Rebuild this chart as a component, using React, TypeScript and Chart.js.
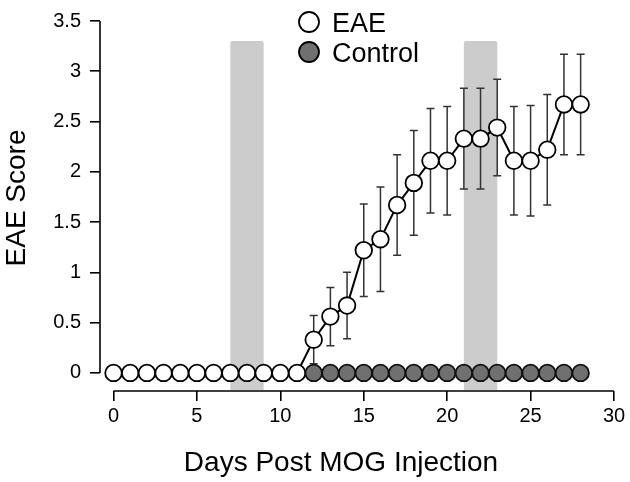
import React, { useEffect, useRef } from "react";
import { Chart, registerables } from "chart.js";

Chart.register(...registerables);

// ---- data ----
const days = [0, 1, 2, 3, 4, 5, 6, 7, 8, 9, 10, 11, 12, 13, 14, 15, 16, 17, 18, 19, 20, 21, 22, 23, 24, 25, 26, 27, 28];
const eaeScores = [0, 0, 0, 0, 0, 0, 0, 0, 0, 0, 0, 0, 0.33, 0.56, 0.67, 1.22, 1.33, 1.67, 1.89, 2.11, 2.11, 2.33, 2.33, 2.44, 2.11, 2.11, 2.22, 2.67, 2.67];
const eaeErrors = [0, 0, 0, 0, 0, 0, 0, 0, 0, 0, 0, 0, 0.24, 0.29, 0.33, 0.46, 0.52, 0.5, 0.52, 0.52, 0.54, 0.5, 0.5, 0.48, 0.54, 0.55, 0.55, 0.5, 0.5];
const controlDays = [12, 13, 14, 15, 16, 17, 18, 19, 20, 21, 22, 23, 24, 25, 26, 27, 28];
const controlScores = [0, 0, 0, 0, 0, 0, 0, 0, 0, 0, 0, 0, 0, 0, 0, 0, 0];
const shadedStarts = [7, 21];
const shadedEnds = [9, 23];
const shadedTop = 3.3;
const shadedBottom = -0.17;
const xTicks = [0, 5, 10, 15, 20, 25, 30];
const yTicks = [0, 0.5, 1, 1.5, 2, 2.5, 3, 3.5];
const seriesLabels = ["EAE", "Control"];
const xTitle = "Days Post MOG Injection";
const yTitle = "EAE Score";

const FONT = "'Liberation Sans', Arial, Helvetica, sans-serif";

const decorPlugin = {
  id: "decor",
  beforeDatasetsDraw(chart: any) {
    const { ctx, chartArea, scales } = chart;
    const xs = scales.x;
    const ys = scales.y;
    ctx.save();
    // shaded periods
    ctx.fillStyle = "#cccccc";
    for (let i = 0; i < shadedStarts.length; i++) {
      const x0 = xs.getPixelForValue(shadedStarts[i]);
      const x1 = xs.getPixelForValue(shadedEnds[i]);
      const y0 = ys.getPixelForValue(shadedTop);
      const y1 = ys.getPixelForValue(shadedBottom);
      ctx.beginPath();
      if ((ctx as any).roundRect) {
        (ctx as any).roundRect(x0, y0, x1 - x0, y1 - y0, [2, 2, 0, 0]);
      } else {
        ctx.rect(x0, y0, x1 - x0, y1 - y0);
      }
      ctx.fill();
    }
    // axis lines
    ctx.strokeStyle = "#000";
    ctx.lineWidth = 1.6;
    ctx.beginPath();
    ctx.moveTo(chartArea.left, ys.getPixelForValue(yTicks[0]));
    ctx.lineTo(chartArea.left, ys.getPixelForValue(yTicks[yTicks.length - 1]));
    ctx.stroke();
    ctx.beginPath();
    ctx.moveTo(xs.getPixelForValue(xTicks[0]), chartArea.bottom);
    ctx.lineTo(xs.getPixelForValue(xTicks[xTicks.length - 1]), chartArea.bottom);
    ctx.stroke();
    // error bars
    ctx.strokeStyle = "#333";
    ctx.lineWidth = 1.5;
    const cap = 4;
    for (let i = 0; i < days.length; i++) {
      const e = eaeErrors[i];
      if (!e) continue;
      const x = xs.getPixelForValue(days[i]);
      const yt = ys.getPixelForValue(eaeScores[i] + e);
      const yb = ys.getPixelForValue(eaeScores[i] - e);
      ctx.beginPath();
      ctx.moveTo(x, yt);
      ctx.lineTo(x, yb);
      ctx.moveTo(x - cap, yt);
      ctx.lineTo(x + cap, yt);
      ctx.moveTo(x - cap, yb);
      ctx.lineTo(x + cap, yb);
      ctx.stroke();
    }
    ctx.restore();
  },
  afterDraw(chart: any) {
    const { ctx, chartArea } = chart;
    ctx.save();
    ctx.fillStyle = "#000";
    // axis titles
    ctx.font = `28px ${FONT}`;
    ctx.textAlign = "center";
    ctx.textBaseline = "alphabetic";
    ctx.fillText(xTitle, chartArea.left + 241, chartArea.bottom + 80);
    ctx.save();
    ctx.translate(chartArea.left - 75, chartArea.top + 177);
    ctx.rotate(-Math.PI / 2);
    ctx.fillText(yTitle, 0, 0);
    ctx.restore();
    // legend (in series label order)
    const lx = chartArea.left + 209;
    const ly = chartArea.top + 1;
    seriesLabels.forEach((label, i) => {
      const ds: any = chart.data.datasets.find((d: any) => d.label === label);
      if (!ds) return;
      const cy = ly + i * 30;
      ctx.beginPath();
      ctx.arc(lx, cy, 10, 0, Math.PI * 2);
      ctx.fillStyle = ds.pointBackgroundColor;
      ctx.fill();
      ctx.lineWidth = 1.8;
      ctx.strokeStyle = "#000";
      ctx.stroke();
      ctx.fillStyle = "#000";
      ctx.font = `27px ${FONT}`;
      ctx.textAlign = "left";
      ctx.textBaseline = "alphabetic";
      ctx.fillText(label, lx + 23, cy + 10);
    });
    ctx.restore();
  },
};

export default function App() {
  const ref = useRef<HTMLCanvasElement | null>(null);
  useEffect(() => {
    document.body.style.margin = "0";
    const canvas = ref.current;
    if (!canvas) return;
    const chart = new Chart(canvas, {
      type: "line",
      data: {
        datasets: [
          {
            label: seriesLabels[1],
            data: controlDays.map((d, i) => ({ x: d, y: controlScores[i] })),
            showLine: false,
            pointRadius: 8.3,
            pointHoverRadius: 8.3,
            pointBackgroundColor: "#707070",
            pointBorderColor: "#111",
            pointBorderWidth: 1.8,
            clip: false,
            order: 1,
          } as any,
          {
            label: seriesLabels[0],
            data: days.map((d, i) => ({ x: d, y: eaeScores[i] })),
            borderColor: "#000",
            borderWidth: 2,
            pointRadius: 8.3,
            pointHoverRadius: 8.3,
            pointBackgroundColor: "#ffffff",
            pointBorderColor: "#000",
            pointBorderWidth: 1.8,
            clip: false,
            order: 2,
          } as any,
        ],
      },
      options: {
        animation: false,
        responsive: false,
        layout: { padding: { top: 15, right: 16, left: 0, bottom: 0 } },
        plugins: { legend: { display: false }, tooltip: { enabled: false } },
        scales: {
          x: {
            type: "linear",
            min: -0.81,
            max: 30,
            afterBuildTicks: (s: any) => {
              s.ticks = xTicks.map((v) => ({ value: v }));
            },
            afterFit: (s: any) => {
              s.height = 91;
            },
            ticks: {
              color: "#000",
              font: { size: 20, family: FONT },
              padding: 3,
              maxRotation: 0,
              autoSkip: false,
              callback: (v: any) => String(v),
            },
            grid: { display: true, drawOnChartArea: false, drawTicks: true, tickLength: 10, color: "#000", lineWidth: 1.6 },
            border: { display: false },
          },
          y: {
            type: "linear",
            min: -0.18,
            max: 3.5,
            afterBuildTicks: (s: any) => {
              s.ticks = yTicks.map((v) => ({ value: v }));
            },
            afterFit: (s: any) => {
              s.width = 100;
            },
            ticks: {
              color: "#000",
              font: { size: 20, family: FONT },
              padding: 9,
              autoSkip: false,
              callback: (v: any) => String(v),
            },
            grid: { display: true, drawOnChartArea: false, drawTicks: true, tickLength: 10, color: "#000", lineWidth: 1.6 },
            border: { display: false },
          },
        },
      } as any,
      plugins: [decorPlugin],
    });
    return () => chart.destroy();
  }, []);
  return (
    <div style={{ width: 630, height: 482 }}>
      <canvas ref={ref} width={630} height={482} style={{ display: "block" }} />
    </div>
  );
}
